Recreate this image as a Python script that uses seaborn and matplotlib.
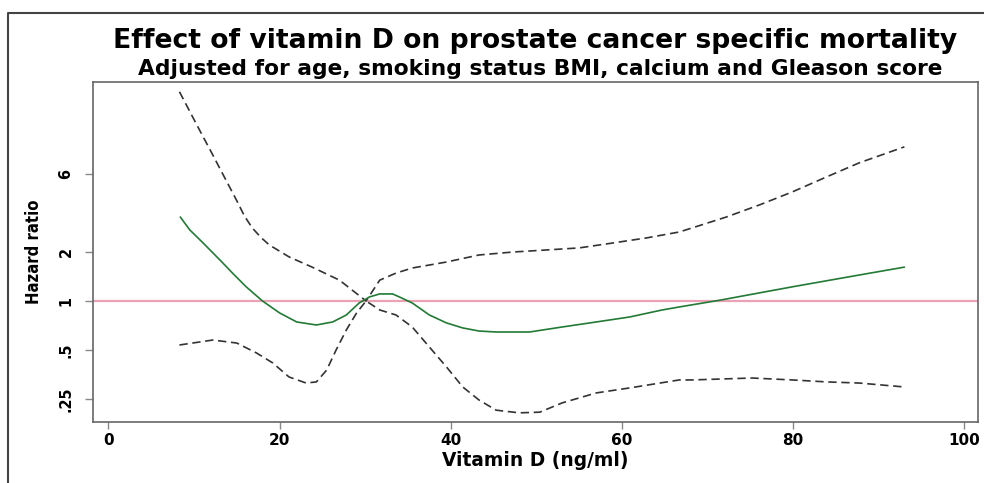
import numpy as np
import pandas as pd
import matplotlib
matplotlib.use("Agg")
import matplotlib.pyplot as plt
from matplotlib.lines import Line2D
from matplotlib.ticker import NullLocator
import seaborn as sns

# ---- values (hazard ratio, log scale) ----
x_est = [8.4, 9.5, 11.0, 12.2, 13.4, 14.5, 16.1, 18.0, 20.0, 22.0, 24.3, 26.2, 27.8, 29.3, 30.5,
         31.7, 33.2, 34.0, 35.5, 37.5, 39.5, 41.4, 43.3, 45.3, 49.2, 53.0, 57.0,
         60.9, 64.7, 66.7, 71.4, 79.9, 87.7, 93.0]
hr_est = [3.26, 2.72, 2.28, 1.97, 1.70, 1.48, 1.22, 1.0, 0.845, 0.744, 0.713, 0.744, 0.821, 0.972, 1.058,
          1.104, 1.104, 1.058, 0.972, 0.821, 0.734, 0.684, 0.655, 0.646, 0.646, 0.693, 0.744,
          0.798, 0.881, 0.919, 1.01, 1.22, 1.44, 1.61]

x_upper = [8.3, 10.3, 12.2, 13.6, 15.0, 15.9, 16.8, 17.8, 18.8, 21.1, 23.8, 27.0, 30.1, 31.7, 33.6, 35.5, 39.5,
           43.3, 47.2, 51.2, 55.0, 58.9, 62.9, 66.7, 72.2, 76.1, 79.9, 83.9, 87.7, 93.0]
hr_upper = [19.0, 12.0, 7.8, 5.65, 4.1, 3.3, 2.8, 2.45, 2.2, 1.86, 1.61, 1.34, 1.0, 1.34, 1.48, 1.59, 1.73,
            1.91, 1.99, 2.05, 2.11, 2.26, 2.43, 2.64, 3.26, 3.87, 4.64, 5.73, 6.98, 8.75]

x_lower = [8.3, 12.2, 15.0, 17.3, 19.2, 21.1, 23.1, 24.3, 25.5, 26.6, 27.8, 29.0, 30.1,
           31.7, 33.6, 35.5, 37.5, 39.5, 41.4, 43.3, 45.3, 48.0, 50.4, 53.0, 57.0, 60.9,
           66.7, 68.2, 75.2, 79.9, 83.9, 87.7, 93.0]
hr_lower = [0.538, 0.577, 0.553, 0.481, 0.418, 0.343, 0.315, 0.32, 0.378, 0.501, 0.665, 0.845, 1.0,
            0.881, 0.821, 0.693, 0.523, 0.395, 0.298, 0.248, 0.215, 0.207, 0.209, 0.238, 0.274, 0.294,
            0.329, 0.329, 0.338, 0.329, 0.32, 0.315, 0.298]

y_ticks = [0.25, 0.5, 1, 2, 6]
y_tick_labels = ['.25', '.5', '1', '2', '6']
x_ticks = [0, 20, 40, 60, 80, 100]

title = 'Effect of vitamin D on prostate cancer specific mortality'
subtitle = 'Adjusted for age, smoking status BMI, calcium and Gleason score'

sns.set_theme(style="white")
plt.rcParams['font.family'] = ['DejaVu Sans']
plt.rcParams['text.color'] = 'black'
plt.rcParams['axes.labelcolor'] = 'black'
plt.rcParams['xtick.color'] = 'black'
plt.rcParams['ytick.color'] = 'black'

W, H = 984, 483
fig = plt.figure(figsize=(W / 100, H / 100), dpi=100)
ax = fig.add_axes([93 / W, 61 / H, 885 / W, 340 / H])

# reference line at HR = 1
ax.axhline(1, color='#eba2b4', lw=1.6, zorder=1)

dash = (0, (5, 2.8))
sns.lineplot(x=x_upper, y=hr_upper, color='#333333', lw=1.2, linestyle=dash, ax=ax)
sns.lineplot(x=x_lower, y=hr_lower, color='#333333', lw=1.2, linestyle=dash, ax=ax)
sns.lineplot(x=x_est, y=hr_est, color='#237a36', lw=1.2, ax=ax)

ax.set_yscale('log')
ax.set_ylim(0.182, 21.8)
ax.set_xlim(-1.8, 101.6)
ax.yaxis.set_minor_locator(NullLocator())
ax.set_yticks(y_ticks)
ax.set_yticklabels(y_tick_labels, rotation=90, va='center', fontsize=11.5,
                   fontweight='bold', fontstretch='condensed')
ax.set_xticks(x_ticks)
ax.set_xticklabels([str(v) for v in x_ticks], fontsize=11, fontweight='bold')

ax.tick_params(axis='y', direction='out', length=6, width=1, color='#888888', pad=8, left=True)
ax.tick_params(axis='x', direction='out', length=5, width=1, color='#888888', pad=3, bottom=True)

for s in ax.spines.values():
    s.set_color('#666666')
    s.set_linewidth(1.2)

ax.set_ylabel('Hazard ratio', fontsize=12, labelpad=11, fontweight='bold', fontstretch='condensed')
ax.set_xlabel('Vitamin D (ng/ml)', fontsize=12, labelpad=2, fontweight='bold')

t1 = fig.text(535 / W, (H - 48) / H, title, ha='center', va='baseline', fontsize=17, fontweight='bold')
t2 = fig.text(540 / W, (H - 75) / H, subtitle, ha='center', va='baseline', fontsize=13, fontweight='bold')

# outer frame (cropped: only top and left edges visible)
fig.add_artist(Line2D([8 / W, 8 / W, 1], [0, (H - 13) / H, (H - 13) / H],
                      transform=fig.transFigure, color='#444444', lw=1.5))


def fit_width(txt, px):
    fig.canvas.draw()
    r = fig.canvas.get_renderer()
    w = txt.get_window_extent(renderer=r).width
    txt.set_fontsize(txt.get_fontsize() * px / w)


fit_width(t1, 845)
fit_width(t2, 800)
fit_width(ax.xaxis.label, 185)

fig.savefig('out.png', dpi=100)
